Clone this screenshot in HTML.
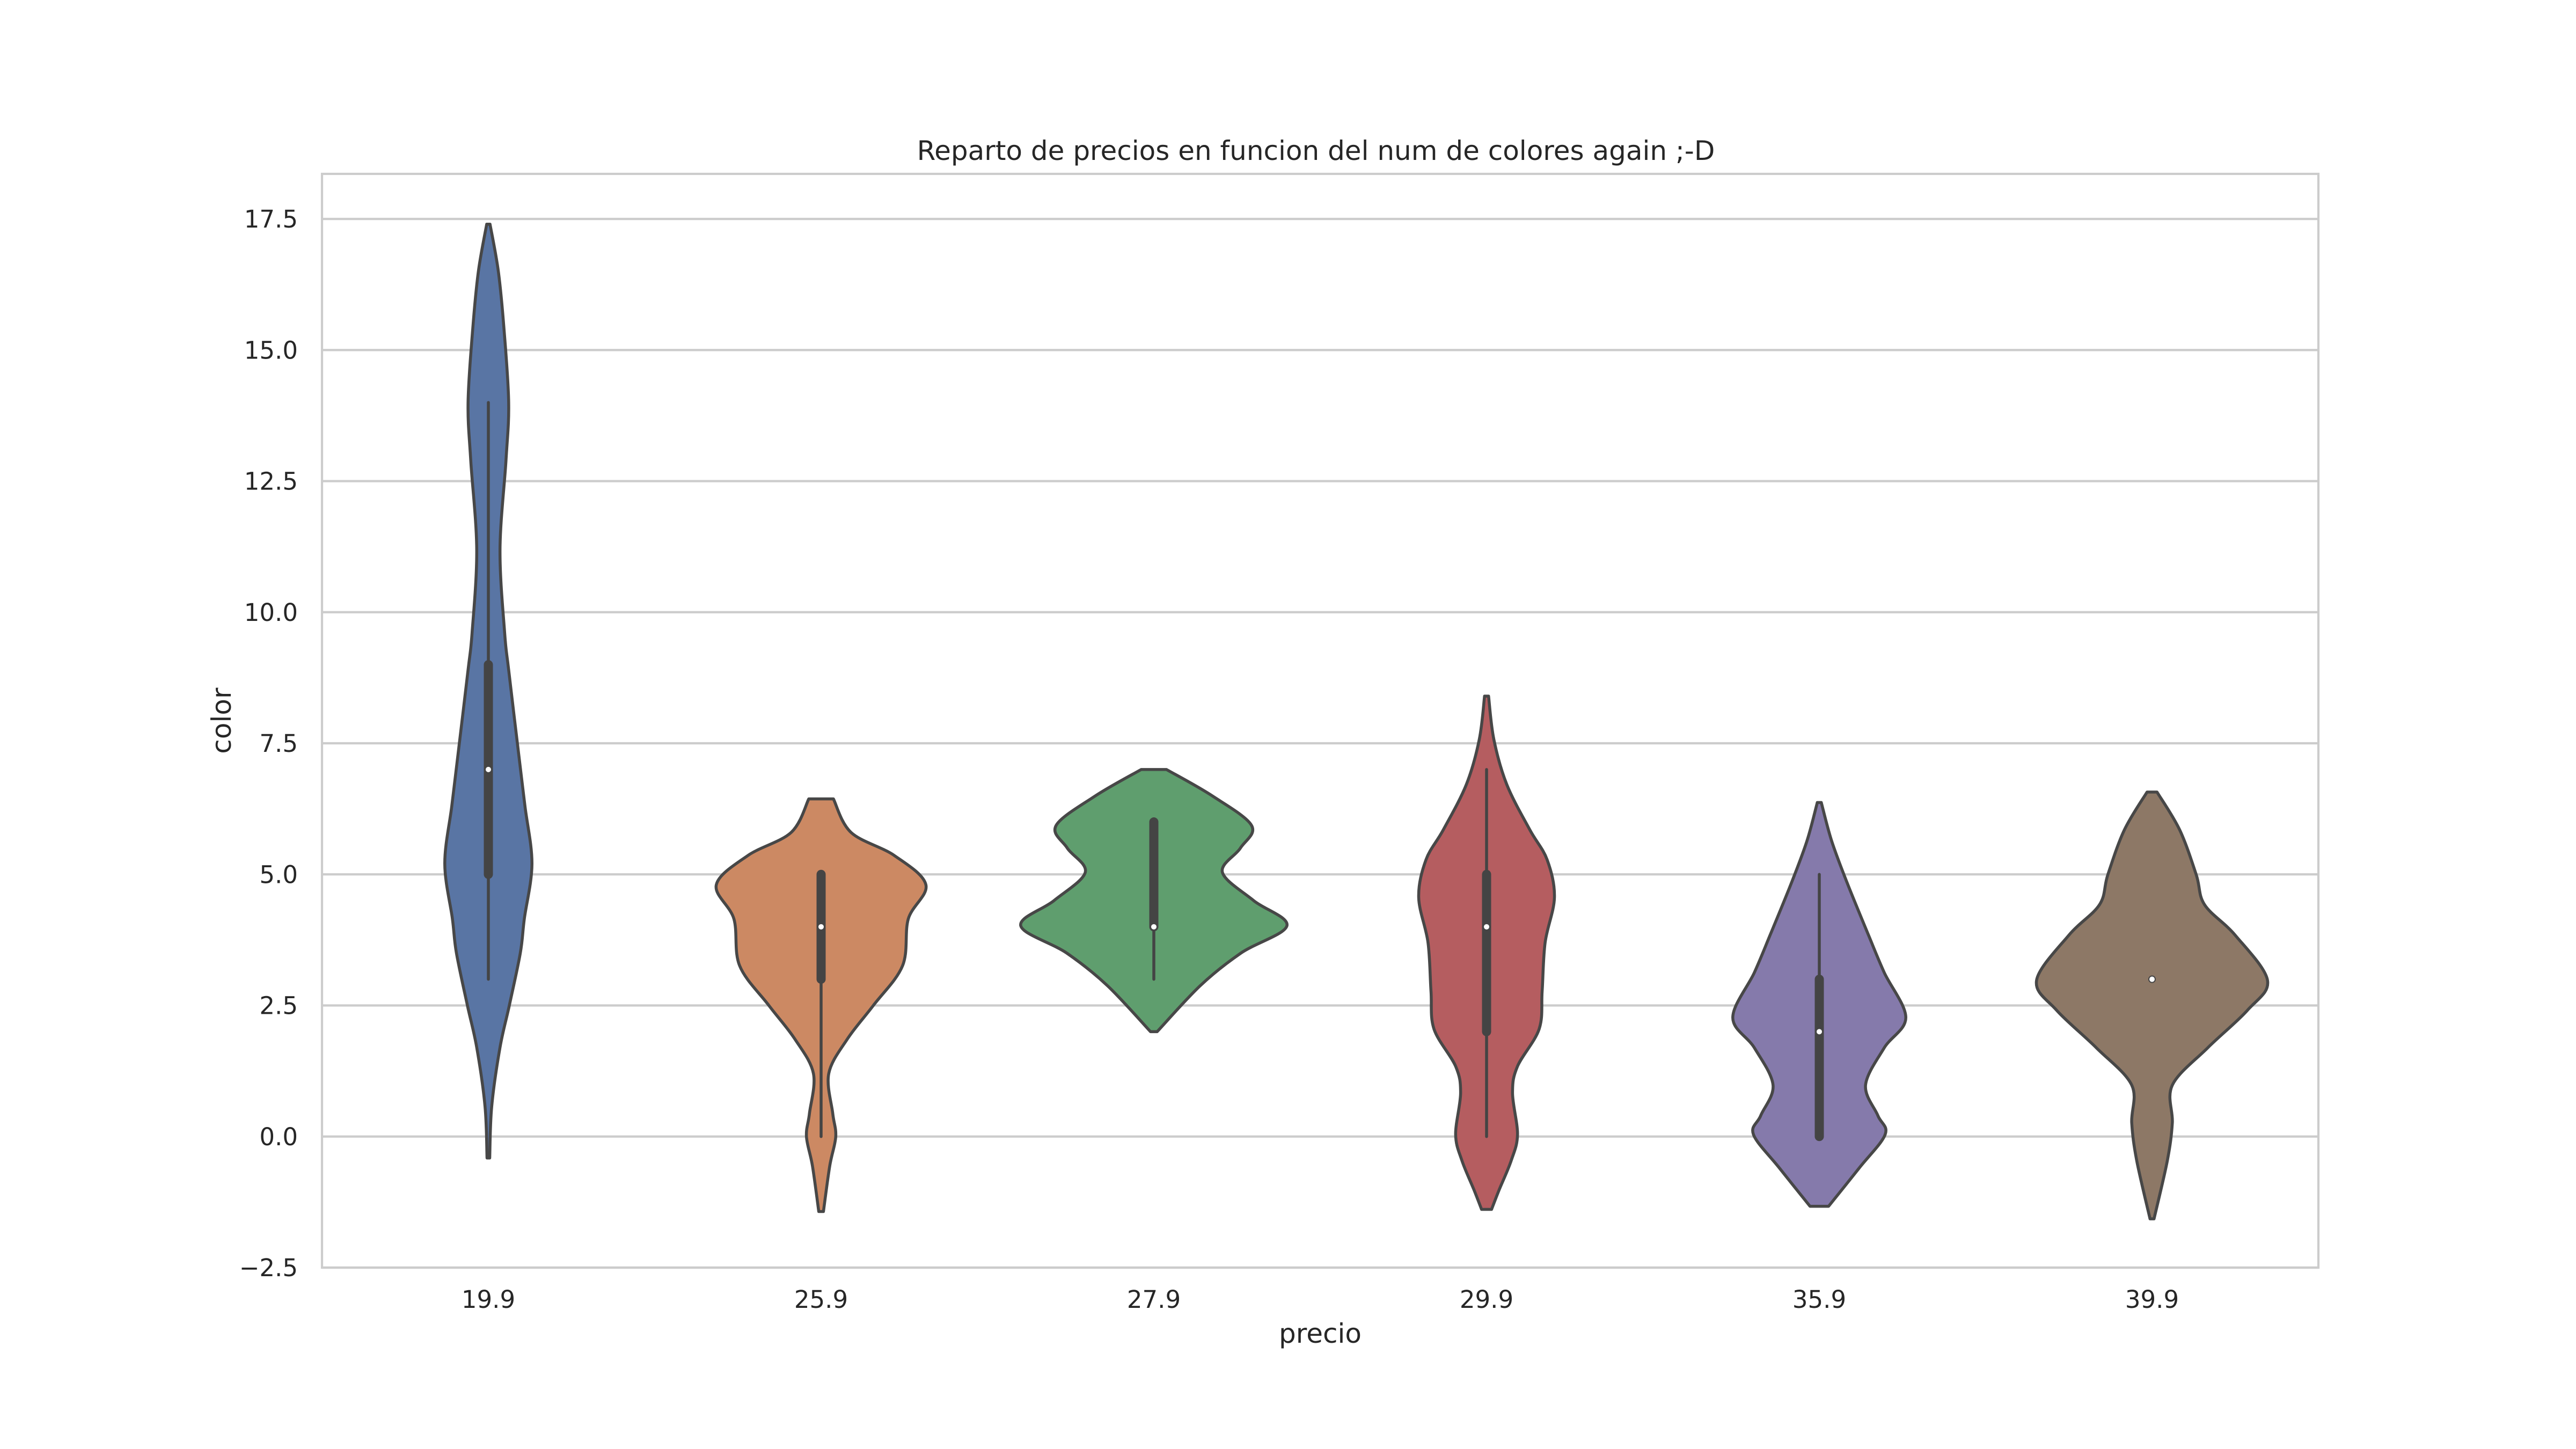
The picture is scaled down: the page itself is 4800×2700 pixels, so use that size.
<!DOCTYPE html>
<html><head><meta charset="utf-8">
<style>
html,body{margin:0;padding:0;background:#fff;}
svg{display:block;}
text{font-family:"DejaVu Sans","Liberation Sans",sans-serif;fill:#262626;}
</style></head>
<body>
<svg id="chart" width="4800" height="2700" viewBox="0 0 4800 2700" xmlns="http://www.w3.org/2000/svg">
<rect width="4800" height="2700" fill="#fff"/>
<g id="grid"></g>
<g id="violins"></g>
<g id="ticks"></g>
<rect x="600" y="324" width="3720" height="2038" fill="none" stroke="#cccccc" stroke-width="4.2"/>
<text x="2452" y="298" font-size="50" text-anchor="middle">Reparto de precios en funcion del num de colores again ;-D</text>
<text x="2460" y="2532" font-size="50" text-anchor="middle" transform="translate(0,-30)">precio</text>
<text x="430" y="1343" font-size="50" text-anchor="middle" transform="rotate(-90 430 1343)">color</text>
</svg>
<script>
const categories = ["19.9","25.9","27.9","29.9","35.9","39.9"];
const yTicks = [-2.5,0,2.5,5,7.5,10,12.5,15,17.5];
const yTickLabels = ["\u22122.5","0.0","2.5","5.0","7.5","10.0","12.5","15.0","17.5"];
const colors = ["#5975a4","#cc8963","#5f9e6e","#b55d60","#857aab","#8d7866"];
const medians = [7,4,4,4,2,3];
const q1 = [5,3,4,2,0,3];
const q3 = [9,5,6,5,3,3];
const whiskLo = [3,0,3,0,0,3];
const whiskHi = [14,5,6,7,5,3];
// density outline: values (color) and half-widths (fraction of category spacing)
const dVals0 = [17.4,16.5,15.4,14.0,12.9,11.2,9.6,8.9,7.3,6.3,5.2,4.15,3.5,2.5,1.7,0.57,-0.41];
const dW0    = [0.005,0.03,0.047,0.061,0.053,0.035,0.049,0.061,0.091,0.11,0.131,0.108,0.096,0.063,0.035,0.01,0.004];
const dVals1 = [6.44,5.8,5.36,4.8,4.15,3.26,2.5,1.86,1.2,0.44,0,-0.56,-1.43];
const dW1    = [0.037,0.09,0.22,0.315,0.262,0.245,0.157,0.079,0.023,0.035,0.044,0.026,0.007];
const dVals2 = [7.0,6.5,5.93,5.5,5.04,4.5,4.02,3.5,2.88,2.0];
const dW2    = [0.038,0.175,0.294,0.26,0.206,0.3,0.40,0.262,0.14,0.01];
const dVals3 = [8.4,7.57,6.71,5.85,5.28,4.56,3.7,2.77,2.05,1.34,0.83,0.04,-0.46,-1.03,-1.39];
const dW3    = [0.006,0.022,0.061,0.13,0.182,0.204,0.176,0.167,0.158,0.093,0.078,0.093,0.074,0.037,0.015];
const dVals4 = [6.37,5.64,4.85,3.84,3.13,2.27,1.69,0.98,0.4,0.04,-0.6,-1.33];
const dW4    = [0.006,0.037,0.083,0.148,0.195,0.26,0.195,0.139,0.176,0.198,0.12,0.028];
const dVals5 = [6.57,5.85,4.99,4.42,3.84,2.98,2.41,1.69,0.98,0.26,-0.46,-1.57];
const dW5    = [0.015,0.083,0.133,0.158,0.25,0.347,0.287,0.167,0.061,0.061,0.046,0.006];
const densVals = [dVals0,dVals1,dVals2,dVals3,dVals4,dVals5];
const densW = [dW0,dW1,dW2,dW3,dW4,dW5];

const L=600,R=4320,T=324,B=2362;
const yMin=-2.5, yMax=18.36;
const step=(R-L)/categories.length;
function xs(i){return L+step*(i+0.5);}
function ys(v){return B-(v-yMin)/(yMax-yMin)*(B-T);}
const NS="http://www.w3.org/2000/svg";
function mk(tag,attrs,parent){const e=document.createElementNS(NS,tag);for(const k in attrs)e.setAttribute(k,attrs[k]);parent.appendChild(e);return e;}

const grid=document.getElementById('grid'), ticks=document.getElementById('ticks'), vg=document.getElementById('violins');
yTicks.forEach((v,i)=>{
  const ln=mk('line',{x1:L,x2:R,y1:ys(v),y2:ys(v),stroke:'#cccccc','stroke-width':4.2},grid);
  
  
  const t=mk('text',{x:555,y:ys(v)+16,'font-size':45,'text-anchor':'end'},ticks);
  t.textContent=yTickLabels[i];
  
  
});
categories.forEach((c,i)=>{
  const t=mk('text',{x:xs(i),y:2437,'font-size':45,'text-anchor':'middle'},ticks);
  t.textContent=c;
  
  
});

function smoothPath(pts){
  let d='M'+pts[0][0]+','+pts[0][1];
  for(let i=0;i<pts.length-1;i++){
    const p0=pts[Math.max(i-1,0)],p1=pts[i],p2=pts[i+1],p3=pts[Math.min(i+2,pts.length-1)];
    const c1=[p1[0]+(p2[0]-p0[0])/6,p1[1]+(p2[1]-p0[1])/6];
    const c2=[p2[0]-(p3[0]-p1[0])/6,p2[1]-(p3[1]-p1[1])/6];
    d+=' C'+c1[0]+','+c1[1]+' '+c2[0]+','+c2[1]+' '+p2[0]+','+p2[1];
  }
  return d;
}
categories.forEach((c,i)=>{
  const cx=xs(i), vals=densVals[i], w=densW[i];
  const right=vals.map((v,k)=>[cx+w[k]*step,ys(v)]);
  const left=vals.map((v,k)=>[cx-w[k]*step,ys(v)]).reverse();
  const lp=smoothPath(left);
  const d=smoothPath(right)+' L'+left[0][0]+','+left[0][1]+lp.slice(lp.indexOf(' '))+' Z';
  const p=mk('path',{d:d,fill:colors[i],stroke:'#474747','stroke-width':5.5,'stroke-linejoin':'round'},vg);
  
  
  const wl=mk('line',{x1:cx,x2:cx,y1:ys(whiskLo[i]),y2:ys(whiskHi[i]),stroke:'#444','stroke-width':5.5,'stroke-linecap':'round'},vg);
  
  
  if(q3[i]>q1[i]){
    const bx=mk('line',{x1:cx,x2:cx,y1:ys(q1[i]),y2:ys(q3[i]),stroke:'#444','stroke-width':17,'stroke-linecap':'round'},vg);
    
    
  }
  const m=mk('circle',{cx:cx,cy:ys(medians[i]),r:6,fill:'#fff',stroke:'#444','stroke-width':2},vg);
  
  
});
</script>
</body></html>
